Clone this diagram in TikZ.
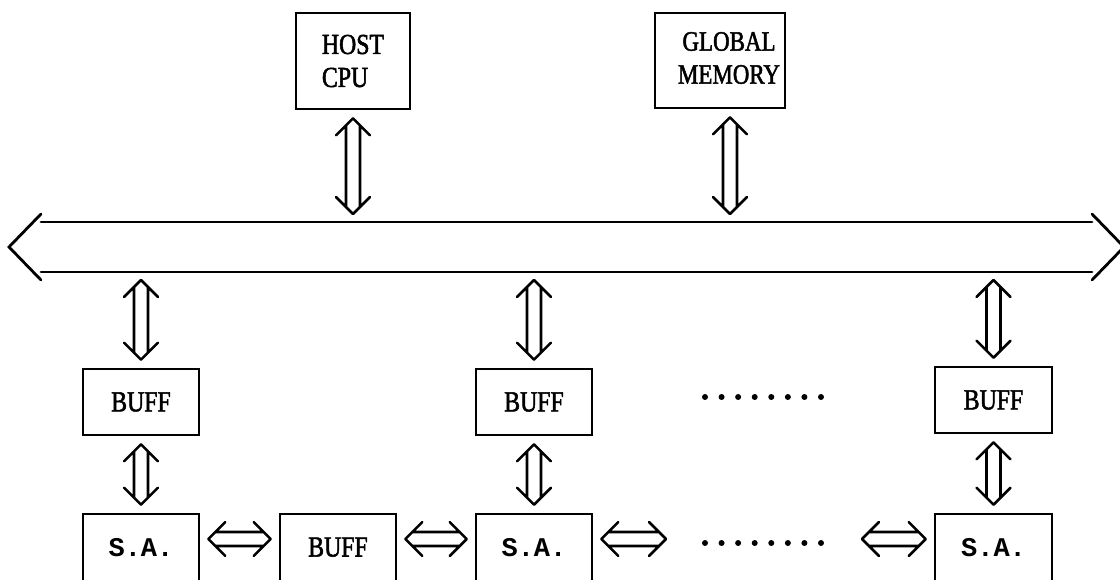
\documentclass[tikz,border=0pt]{standalone}
\usepackage{fontspec}
\usetikzlibrary{calc}
\newfontfamily\lblfont[FakeStretch=0.82, FakeBold=1.8]{Liberation Serif}
\newfontfamily\safont{Liberation Mono Bold}
\tikzset{
  box/.style={draw, line width=2.7pt, inner sep=0pt, font=\lblfont\fontsize{29}{33}\selectfont},
  unit/.style={box, minimum width=116pt, minimum height=66pt},
  lowunit/.style={box, minimum width=116pt, minimum height=70pt},
  sa/.style={font=\safont\fontsize{27}{30}\selectfont},
  lbl/.style={inner sep=0pt, font=\lblfont\fontsize{28}{33}\selectfont, align=center},
  busline/.style={line width=2.8pt, line cap=round, line join=miter},
  dbl/.style={line width=2.6pt, line cap=round, line join=round, to path={
    let \p1=(\tikztostart), \p2=(\tikztotarget), \n1={atan2(\y2-\y1,\x2-\x1)},
        \p3=($(\p1)+(\n1:8pt)$), \p4=($(\p2)+(\n1+180:8pt)$) in
    ($(\p3)+(\n1+45:24pt)$) -- (\p3) -- ($(\p3)+(\n1-45:24pt)$)
    ($(\p4)+(\n1+135:24pt)$) -- (\p4) -- ($(\p4)+(\n1-135:24pt)$)
    ($(\p3)+(\n1:7pt)+(\n1+90:7pt)$) -- ($(\p4)+(\n1+180:7pt)+(\n1+90:7pt)$)
    ($(\p3)+(\n1:7pt)+(\n1-90:7pt)$) -- ($(\p4)+(\n1+180:7pt)+(\n1-90:7pt)$)
  }}
}
\begin{document}
\begin{tikzpicture}[x=1pt, y=-1pt]
\useasboundingbox (0,0) rectangle (1120,579);

% top units
\node[box, minimum width=114pt, minimum height=96pt, align=left] (host) at (353,61) {HOST\\CPU};
\node[box, minimum width=130pt, minimum height=95pt] (gmem) at (720,60.5) {};
\node[lbl] (gmemtext) at (729,58) {GLOBAL\\MEMORY};
\coordinate (gmemport) at ($(gmem.south)+(10,0)$);

% bus
\coordinate (bt) at (0,222);
\coordinate (bb) at (0,272);
\coordinate (busW) at (9,247);
\coordinate (busE) at (1124,247);
\draw[busline] ($(busW)+(32,-33)$) -- (busW) -- ($(busW)+(32,33)$);
\draw[busline] ($(busE)+(-32,-33)$) -- (busE) -- ($(busE)+(-32,33)$);
\draw[busline] (41,222) -- (1092,222);
\draw[busline] (41,272) -- (1092,272);

% lower units
\node[unit] (buf1) at (141,402) {BUFF};
\node[unit] (buf2) at (534,402) {BUFF};
\node[unit, minimum width=117pt] (buf3) at (993.5,400) {BUFF};
\node[lowunit, sa] (sa1) at (141,549) {\raisebox{4pt}{S.A.}};
\node[lowunit] (buf4) at (338,549) {\raisebox{4pt}{BUFF}};
\node[lowunit, sa] (sa2) at (534,549) {\raisebox{4pt}{S.A.}};
\node[lowunit, minimum width=117pt, sa] (sa3) at (993.5,549) {\raisebox{4pt}{S.A.}};

% dots
\foreach \i in {0,...,7} {
  \fill (705+\i*16.57,397) circle (3pt);
  \fill (705+\i*16.57,543) circle (3pt);
}
\coordinate (rowy) at (0,539);
\coordinate (dotsW) at (674,539);
\coordinate (dotsE) at (854,539);

% vertical connectors
\draw[dbl] (host.south) to (host.south |- bt);
\draw[dbl] (gmemport) to (gmemport |- bt);
\draw[dbl] (buf1.north |- bb) to (buf1.north);
\draw[dbl] (buf2.north |- bb) to (buf2.north);
\draw[dbl] (buf3.north |- bb) to (buf3.north);
\draw[dbl] (buf1.south) to (sa1.north);
\draw[dbl] (buf2.south) to (sa2.north);
\draw[dbl] (buf3.south) to (sa3.north);

% horizontal connectors
\draw[dbl] (sa1.east |- rowy) to (buf4.west |- rowy);
\draw[dbl] (buf4.east |- rowy) to (sa2.west |- rowy);
\draw[dbl] (sa2.east |- rowy) to (dotsW);
\draw[dbl] (dotsE) to (sa3.west |- rowy);
\end{tikzpicture}
\end{document}
